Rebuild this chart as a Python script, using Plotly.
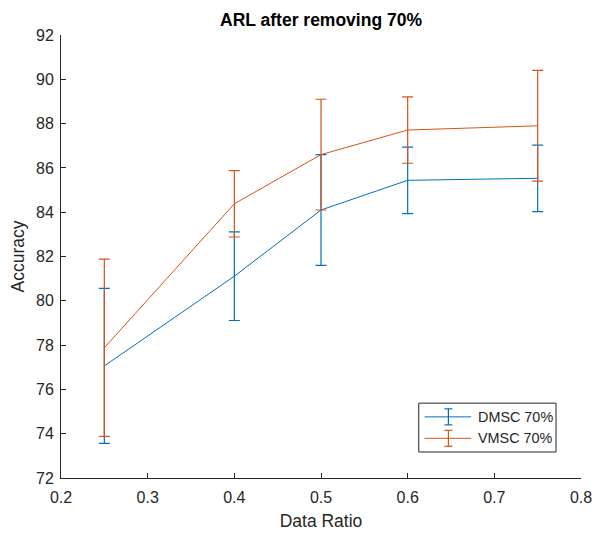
import plotly.graph_objects as go

# Accuracy (mean ± spread) for each data ratio
ratios = [0.25, 0.4, 0.5, 0.6, 0.75]
dmsc_mean = [77.06, 81.11, 84.10, 85.44, 85.53]
dmsc_err = [3.5, 2.0, 2.5, 1.5, 1.5]
vmsc_mean = [77.88, 84.38, 86.60, 87.71, 87.90]
vmsc_err = [4.0, 1.5, 2.5, 1.5, 2.5]

series_names = ["DMSC 70%", "VMSC 70%"]
colors = ["#0072BD", "#D95319"]

x_ticks = [0.2, 0.3, 0.4, 0.5, 0.6, 0.7, 0.8]
y_ticks = [72, 74, 76, 78, 80, 82, 84, 86, 88, 90, 92]

FONT = "Liberation Sans, Arial, Helvetica, sans-serif"
AX = "#262626"

fig = go.Figure()
for name, mean, err, col in zip(series_names, [dmsc_mean, vmsc_mean],
                                [dmsc_err, vmsc_err], colors):
    fig.add_trace(go.Scatter(
        x=ratios, y=mean, mode="lines", name=name,
        line=dict(color=col, width=1),
        error_y=dict(type="data", array=err, symmetric=True,
                     color=col, thickness=1.2, width=5.5),
        showlegend=False,
    ))

# Boxed legend with line + error-bar glyphs
lx0, lx1, ly0, ly1 = 0.688, 0.952, 0.0587, 0.169
fig.add_shape(type="rect", xref="paper", yref="paper",
              x0=lx0, x1=lx1, y0=ly0, y1=ly1,
              line=dict(color=AX, width=1), fillcolor="white", layer="above")
row_y = [0.138, 0.0896]
gx0, gx1, gxc = 0.699, 0.789, 0.745
dy, dx = 8 / 443, 4 / 520
for name, col, yy in zip(series_names, colors, row_y):
    fig.add_shape(type="line", xref="paper", yref="paper",
                  x0=gx0, x1=gx1, y0=yy, y1=yy,
                  line=dict(color=col, width=1), layer="above")
    fig.add_shape(type="line", xref="paper", yref="paper",
                  x0=gxc, x1=gxc, y0=yy - dy, y1=yy + dy,
                  line=dict(color=col, width=1.2), layer="above")
    for cap in (yy - dy, yy + dy):
        fig.add_shape(type="line", xref="paper", yref="paper",
                      x0=gxc - dx, x1=gxc + dx, y0=cap, y1=cap,
                      line=dict(color=col, width=1.2), layer="above")
    fig.add_annotation(xref="paper", yref="paper", x=0.799, y=yy,
                       text=name, showarrow=False, xanchor="left",
                       yanchor="middle",
                       font=dict(family=FONT, size=14.4, color=AX))

fig.update_layout(
    width=603, height=533,
    margin=dict(l=61, r=22, t=35, b=55),
    paper_bgcolor="white", plot_bgcolor="white",
    title=dict(text="<b>ARL after removing 70%</b>",
               x=0.5, xref="paper", y=1 - 20 / 533, yref="container",
               xanchor="center", yanchor="middle",
               font=dict(family=FONT, size=17.5, color="black")),
    font=dict(family=FONT, color=AX),
)
fig.update_xaxes(
    range=[0.2, 0.8], tickvals=x_ticks,
    ticktext=[f"{t:g}" for t in x_ticks],
    showgrid=False, zeroline=False, showline=True, linecolor=AX, linewidth=1,
    ticks="inside", ticklen=5, tickcolor=AX, ticklabelstandoff=5,
    tickfont=dict(family=FONT, size=16, color=AX), automargin=False,
    title=dict(text="Data Ratio", standoff=9,
               font=dict(family=FONT, size=17.5, color=AX)),
)
fig.update_yaxes(
    range=[72, 92], tickvals=y_ticks,
    showgrid=False, zeroline=False, showline=True, linecolor=AX, linewidth=1,
    ticks="inside", ticklen=5, tickcolor=AX, ticklabelstandoff=3,
    tickfont=dict(family=FONT, size=16, color=AX), automargin=False,
    title=dict(text="Accuracy", standoff=6,
               font=dict(family=FONT, size=17.5, color=AX)),
)

fig.write_html("out.html")
